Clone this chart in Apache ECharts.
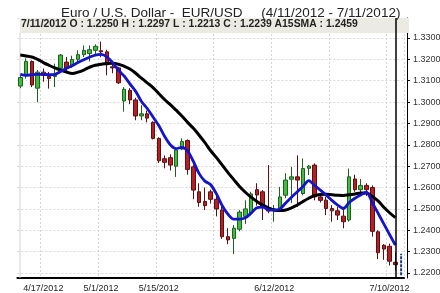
<!DOCTYPE html>
<html><head><meta charset="utf-8">
<script src="https://cdn.jsdelivr.net/npm/echarts@6/dist/echarts.min.js"></script>
<style>html,body{margin:0;padding:0;background:#fff}#c{width:440px;height:293px}</style>
</head><body><div id="c"></div>
<script>
var dates = ['4/11/2012','4/12/2012','4/13/2012','4/16/2012','4/17/2012','4/18/2012','4/19/2012','4/20/2012','4/23/2012','4/24/2012','4/25/2012','4/26/2012','4/27/2012','4/30/2012','5/1/2012','5/2/2012','5/3/2012','5/4/2012','5/7/2012','5/8/2012','5/9/2012','5/10/2012','5/11/2012','5/14/2012','5/15/2012','5/16/2012','5/17/2012','5/18/2012','5/21/2012','5/22/2012','5/23/2012','5/24/2012','5/25/2012','5/28/2012','5/29/2012','5/30/2012','5/31/2012','6/1/2012','6/4/2012','6/5/2012','6/6/2012','6/7/2012','6/8/2012','6/11/2012','6/12/2012','6/13/2012','6/14/2012','6/15/2012','6/18/2012','6/19/2012','6/20/2012','6/21/2012','6/22/2012','6/25/2012','6/26/2012','6/27/2012','6/28/2012','6/29/2012','7/2/2012','7/3/2012','7/4/2012','7/5/2012','7/6/2012','7/9/2012','7/10/2012','7/11/2012'];
var opens = [1.3075,1.3130,1.3190,1.3065,1.3140,1.3120,1.3120,1.3158,1.3187,1.3172,1.3200,1.3222,1.3227,1.3242,1.3240,1.3235,1.3165,1.3160,1.3005,1.3055,1.3010,1.2935,1.2945,1.2905,1.2830,1.2735,1.2740,1.2700,1.2780,1.2820,1.2697,1.2580,1.2535,1.2580,1.2545,1.2495,1.2370,1.2362,1.2405,1.2465,1.2480,1.2590,1.2580,1.2505,1.2490,1.2500,1.2564,1.2639,1.2650,1.2572,1.2690,1.2705,1.2556,1.2541,1.2502,1.2491,1.2466,1.2448,1.2640,1.2590,1.2610,1.2600,1.2393,1.2330,1.2325,1.2250];
var closes = [1.3115,1.3190,1.3080,1.3140,1.3125,1.3110,1.3125,1.3220,1.3157,1.3199,1.3222,1.3242,1.3245,1.3261,1.3235,1.3175,1.3160,1.3090,1.3060,1.3010,1.2935,1.2945,1.2925,1.2830,1.2725,1.2718,1.2705,1.2775,1.2815,1.2685,1.2588,1.2530,1.2515,1.2545,1.2500,1.2370,1.2355,1.2410,1.2485,1.2500,1.2570,1.2565,1.2510,1.2490,1.2500,1.2556,1.2635,1.2650,1.2635,1.2689,1.2700,1.2556,1.2540,1.2502,1.2491,1.2471,1.2440,1.2650,1.2590,1.2610,1.2590,1.2395,1.2295,1.2312,1.2255,1.2239];
var highs = [1.3125,1.3205,1.3195,1.3150,1.3157,1.3141,1.3180,1.3225,1.3211,1.3217,1.3242,1.3265,1.3265,1.3270,1.3283,1.3245,1.3180,1.3165,1.3070,1.3065,1.3020,1.2985,1.2960,1.2910,1.2835,1.2750,1.2755,1.2785,1.2830,1.2825,1.2705,1.2620,1.2600,1.2590,1.2560,1.2510,1.2410,1.2425,1.2495,1.2540,1.2580,1.2620,1.2588,1.2705,1.2518,1.2603,1.2667,1.2697,1.2751,1.2736,1.2705,1.2713,1.2570,1.2557,1.2518,1.2510,1.2510,1.2689,1.2660,1.2640,1.2620,1.2610,1.2400,1.2335,1.2338,1.2297];
var lows = [1.3065,1.3110,1.3070,1.3000,1.3095,1.3063,1.3070,1.3150,1.3141,1.3160,1.3188,1.3211,1.3190,1.3220,1.3210,1.3125,1.3135,1.3085,1.2955,1.2990,1.2915,1.2915,1.2905,1.2825,1.2715,1.2690,1.2680,1.2650,1.2775,1.2660,1.2545,1.2510,1.2495,1.2525,1.2465,1.2360,1.2335,1.2288,1.2395,1.2430,1.2470,1.2515,1.2448,1.2480,1.2440,1.2490,1.2550,1.2527,1.2510,1.2564,1.2658,1.2540,1.2530,1.2471,1.2440,1.2448,1.2409,1.2440,1.2580,1.2570,1.2560,1.2370,1.2265,1.2262,1.2235,1.2213];
var sma15 = [1.3220,1.3216,1.3211,1.3200,1.3185,1.3172,1.3160,1.3150,1.3141,1.3134,1.3140,1.3150,1.3163,1.3172,1.3177,1.3181,1.3182,1.3177,1.3168,1.3155,1.3135,1.3112,1.3090,1.3068,1.3040,1.3012,1.2988,1.2962,1.2935,1.2905,1.2877,1.2845,1.2810,1.2772,1.2740,1.2705,1.2670,1.2637,1.2605,1.2578,1.2555,1.2535,1.2518,1.2505,1.2495,1.2492,1.2495,1.2505,1.2518,1.2535,1.2550,1.2562,1.2567,1.2568,1.2566,1.2564,1.2563,1.2566,1.2570,1.2575,1.2574,1.2558,1.2538,1.2508,1.2482,1.2459];
var fastMA = [1.3130,1.3125,1.3128,1.3130,1.3130,1.3128,1.3130,1.3143,1.3158,1.3170,1.3185,1.3198,1.3210,1.3220,1.3223,1.3212,1.3185,1.3150,1.3122,1.3085,1.3050,1.3003,1.2970,1.2930,1.2890,1.2840,1.2800,1.2782,1.2788,1.2772,1.2722,1.2665,1.2630,1.2613,1.2570,1.2515,1.2475,1.2452,1.2452,1.2458,1.2480,1.2505,1.2508,1.2496,1.2494,1.2500,1.2528,1.2555,1.2580,1.2605,1.2632,1.2610,1.2588,1.2565,1.2540,1.2518,1.2502,1.2530,1.2550,1.2565,1.2578,1.2530,1.2480,1.2430,1.2380,1.2331];
var xLabelDates = ['4/17/2012','5/1/2012','5/15/2012','6/12/2012','7/10/2012'];
var gridDates = ['4/17/2012','5/1/2012','5/15/2012','5/29/2012','6/12/2012','6/26/2012','7/10/2012'];
var rangeMarker = [1.2190, 1.2290];
var titleText = 'Euro / U.S. Dollar -  EUR/USD     (4/11/2012 - 7/11/2012)';
var headerText = '7/11/2012 O : 1.2250 H : 1.2297 L : 1.2213 C : 1.2239 A15SMA : 1.2459';

function hasFont(name){
  var c = document.createElement('canvas').getContext('2d');
  var t = '1.3300 4/17/2012 abcXYZ';
  c.font = '20px monospace'; var a = c.measureText(t).width;
  c.font = '20px "' + name + '", monospace'; var b = c.measureText(t).width;
  return Math.abs(a - b) > 0.5;
}
var FONT = '"Liberation Sans", Arial, sans-serif';
var narrow = hasFont('Liberation Sans Narrow');
var AXFONT = narrow ? '"Liberation Sans Narrow", "Liberation Sans", sans-serif' : FONT;
var AXSIZE = narrow ? 11 : 9;

var cats = dates.concat(['']);
var ohlc = dates.map(function(d,i){return [opens[i], closes[i], lows[i], highs[i]];});
var chart = echarts.init(document.getElementById('c'), null, {renderer:'canvas'});
chart.setOption({
  animation:false,
  textStyle:{fontFamily:FONT},
  title:{text:titleText, left:56, top:1, textStyle:{fontSize:13.5, fontWeight:'normal', color:'#222', fontFamily:FONT}},
  grid:{left:17.4, top:18, width:386.6, height:260, outerBoundsMode:'none', containLabel:false},
  xAxis:{type:'category', data:cats, boundaryGap:true,
    axisLine:{lineStyle:{color:'#000', width:2}},
    axisTick:{show:false},
    axisLabel:{interval:function(i,v){return xLabelDates.indexOf(v)>=0;}, fontSize:AXSIZE, color:'#222', margin:6, fontFamily:AXFONT},
    splitLine:{show:true, interval:function(i,v){return gridDates.indexOf(v)>=0;}, lineStyle:{color:'#d6d6d6', type:[2,2], width:1}}
  },
  yAxis:{type:'value', position:'right', offset:3, min:1.21766, max:1.33935, splitNumber:12, scale:true,
    axisLine:{show:true, lineStyle:{color:'#000', width:1}},
    axisTick:{show:true, length:3, lineStyle:{color:'#000'}},
    axisLabel:{fontSize:AXSIZE, color:'#333', margin:6, showMinLabel:false, showMaxLabel:false, formatter:function(v){return v.toFixed(4);}, fontFamily:AXFONT},
    splitLine:{show:true, lineStyle:{color:'#d6d6d6', type:[2,2], width:1}}
  },
  graphic:[
    {type:'rect', z:1, shape:{x:20, y:18, width:389, height:15}, style:{fill:'#ECEBE3'}},
    {type:'line', z:1, shape:{x1:20, y1:33, x2:20, y2:278}, style:{stroke:'#d0d0d0', lineWidth:1}},
    {type:'text', z:5, left:21, top:19.5, style:{text:headerText, font:'bold 10.4px "Liberation Sans", Arial, sans-serif', fill:'#222'}}
  ],
  series:[
    {type:'candlestick', data:ohlc, barWidth:4,
      itemStyle:{color:'#3DBE3D', color0:'#B52025', borderColor:'#1f5f1f', borderColor0:'#5a1010', borderWidth:1},
      markLine:{silent:true, symbol:['none','none'], label:{show:false}, lineStyle:{color:'#000', width:1.5, type:'solid'}, data:[{xAxis:dates[dates.length-1]}]}
    },
    {type:'line', data:sma15, smooth:0.4, showSymbol:false, lineStyle:{color:'#000', width:3}, z:3},
    {type:'line', data:fastMA, smooth:0.3, showSymbol:false, lineStyle:{color:'#1414C8', width:2.8}, z:4},
    {type:'line', data:[[dates.length, rangeMarker[0]],[dates.length, rangeMarker[1]]], showSymbol:false, lineStyle:{color:'#1d3c78', width:2, type:[3,1]}, z:4}
  ]
});
</script></body></html>
